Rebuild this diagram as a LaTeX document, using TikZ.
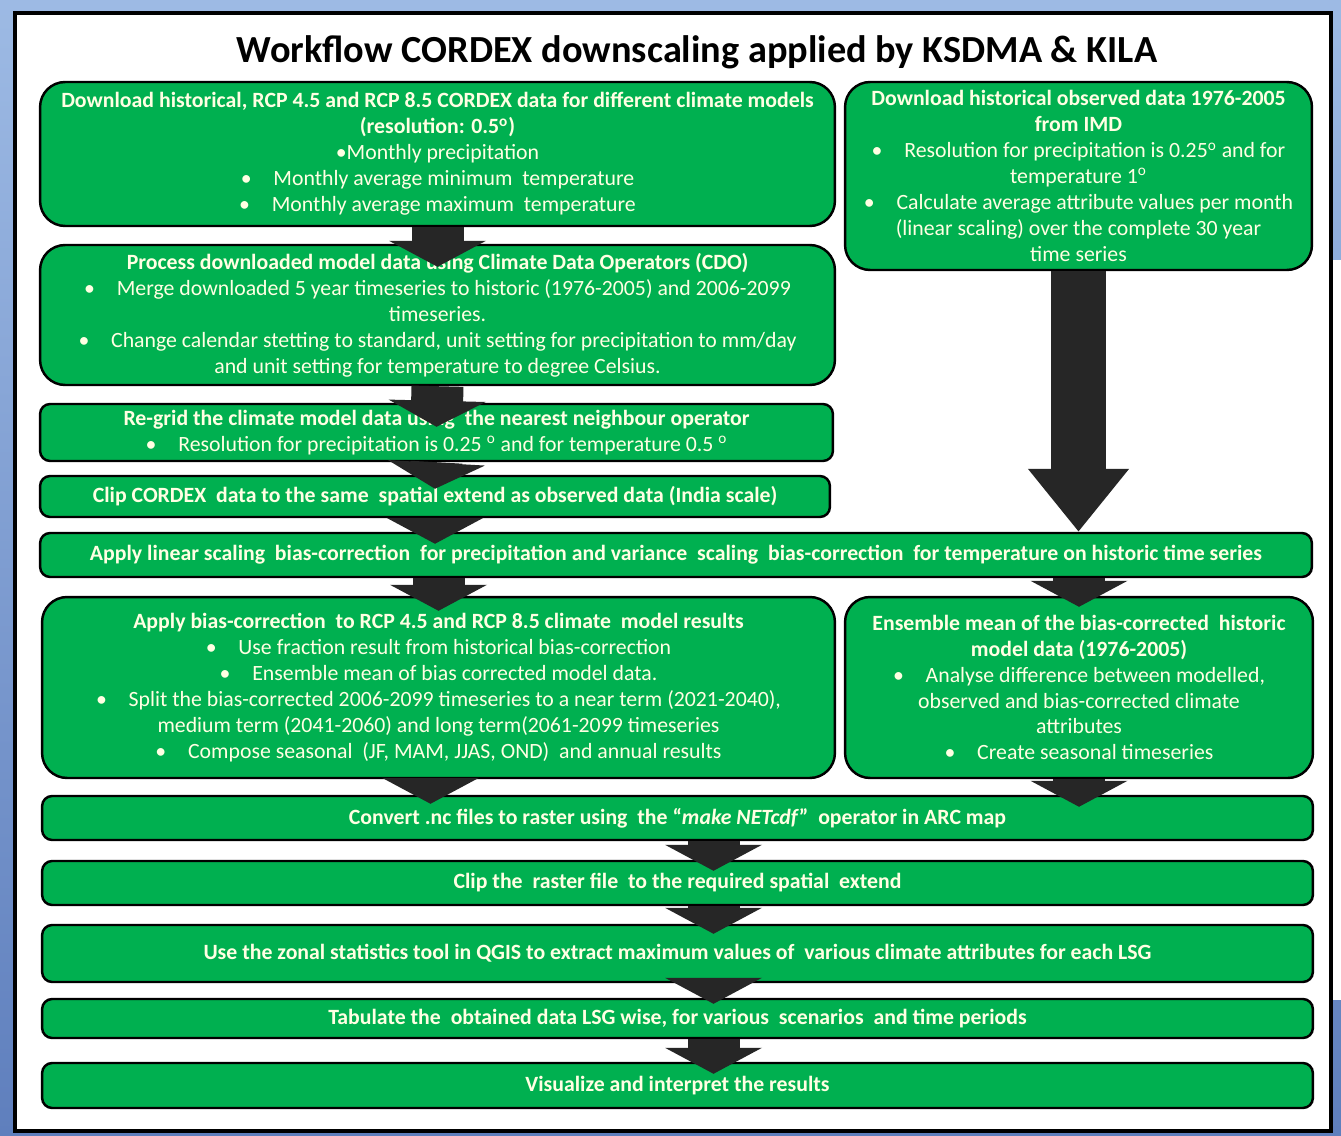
\documentclass[tikz,border=0pt]{standalone}
\usepackage{fontspec}
\setmainfont{Carlito}
\usepackage{xcolor}
\usepackage{tikz}
\usetikzlibrary{arrows.meta}
\usetikzlibrary{calc}
\definecolor{boxgreen}{HTML}{00B050}
\definecolor{boxtext}{HTML}{FFFFE3}
\definecolor{arrowgray}{HTML}{262626}
\definecolor{pageblue}{HTML}{9DBAE4}
\definecolor{deepblue}{HTML}{5F7FBD}
\tikzstyle{roundbox} = [rectangle, draw=black, line width=1.4pt, fill=boxgreen,
    text=boxtext, align=center, inner sep=0pt, rounded corners=0.5cm,
    font=\fontsize{12.4}{14.74}\selectfont]
\tikzstyle{flatbox} = [roundbox, rounded corners=0.2cm]
\tikzstyle{heading} = [font=\fontsize{21.8}{25}\selectfont\bfseries, text=black]
\tikzstyle{flow} = [draw=arrowgray, line width=1.04cm,
    -{Triangle[width=1.92cm,length=0.52cm]}]
\tikzstyle{bigflow} = [draw=arrowgray, line width=1.1cm,
    -{Triangle[width=1.94cm,length=1.26cm]}]

\begin{document}
\begin{tikzpicture}[x=0.02cm, y=-0.02cm]
  \useasboundingbox (0,0) rectangle (1341,1135);
  % Page and frame
  \fill[top color=pageblue, bottom color=deepblue] (0,0) rectangle (1341,1135);
  \fill[white] (1333,260) rectangle (1341,1000);
  \draw[line width=2.3pt, fill=white] (15,13) rectangle (1331,1131);
  % Place nodes
  \node [heading] (title) at (697,52) {Workflow CORDEX downscaling applied by KSDMA \& KILA};
  \node [roundbox, minimum width=15.9cm, minimum height=2.88cm] (dlmodel) at (437.5,154)
    {\textbf{Download historical, RCP 4.5 and RCP 8.5 CORDEX data for different climate models}\\
     \textbf{(resolution: 0.5\textsuperscript{o})}\\
     \textbullet Monthly precipitation\\
     \textbullet\quad Monthly average minimum\ \ temperature\\
     \textbullet\quad Monthly average maximum\ \ temperature};
  \node [roundbox, minimum width=9.34cm, minimum height=3.76cm] (dlobs) at (1078.5,176)
    {\textbf{Download historical observed data 1976-2005}\\
     \textbf{from IMD}\\
     \textbullet\quad Resolution for precipitation is 0.25\textsuperscript{o} and for\\
     temperature 1\textsuperscript{o}\\
     \textbullet\quad Calculate average attribute values per month\\
     (linear scaling) over the complete 30 year\\
     time series};
  \node [roundbox, minimum width=15.9cm, minimum height=2.8cm] (process) at (437.5,315)
    {\textbf{Process downloaded model data using Climate Data Operators (CDO)}\\
     \textbullet\quad Merge downloaded 5 year timeseries to historic (1976-2005) and 2006-2099\\
     timeseries.\\
     \textbullet\quad Change calendar stetting to standard, unit setting for precipitation to mm/day\\
     and unit setting for temperature to degree Celsius.};
  \node [flatbox, minimum width=15.86cm, minimum height=1.14cm] (regrid) at (436.5,432.5)
    {\textbf{Re-grid the climate model data using\ \ the nearest neighbour operator}\\
     \textbullet\quad Resolution for precipitation is 0.25 \textsuperscript{o} and for temperature 0.5 \textsuperscript{o}};
  \node [flatbox, minimum width=15.8cm, minimum height=0.82cm] (clipcordex) at (435,496.5)
    {\textbf{Clip CORDEX\ \ data to the same\ \ spatial extend as observed data (India scale)}};
  \node [flatbox, minimum width=25.44cm, minimum height=0.88cm] (biashist) at (676,555)
    {\textbf{Apply linear scaling\ \ bias-correction\ \ for precipitation and variance\ \ scaling\ \ bias-correction\ \ for temperature on historic time series}};
  \node [roundbox, minimum width=15.86cm, minimum height=3.62cm] (biasrcp) at (438.5,687.5)
    {\textbf{Apply bias-correction\ \ to RCP 4.5 and RCP 8.5 climate\ \ model results}\\
     \textbullet\quad Use fraction result from historical bias-correction\\
     \textbullet\quad Ensemble mean of bias corrected model data.\\
     \textbullet\quad Split the bias-corrected 2006-2099 timeseries to a near term (2021-2040),\\
     medium term (2041-2060) and long term(2061-2099 timeseries\\
     \textbullet\quad Compose seasonal\ \ (JF, MAM, JJAS, OND)\ \ and annual results};
  \node [roundbox, minimum width=9.36cm, minimum height=3.62cm] (ensemble) at (1079,687.5)
    {\textbf{Ensemble mean of the bias-corrected\ \ historic}\\
     \textbf{model data (1976-2005)}\\
     \textbullet\quad Analyse difference between modelled,\\
     observed and bias-corrected climate\\
     attributes\\
     \textbullet\quad Create seasonal timeseries};
  \node [flatbox, minimum width=25.42cm, minimum height=0.88cm] (convert) at (677.5,818)
    {\textbf{Convert .nc files to raster using\ \ the \textquotedblleft\textit{make NETcdf}\textquotedblright\ \ operator in ARC map}};
  \node [flatbox, minimum width=25.42cm, minimum height=0.88cm] (cliprast) at (677.5,883)
    {\textbf{Clip the\ \ raster file\ \ to the required spatial\ \ extend}};
  \node [flatbox, minimum width=25.42cm, minimum height=1.14cm] (zonal) at (677.5,953.5)
    {\textbf{Use the zonal statistics tool in QGIS to extract maximum values of\ \ various climate attributes for each LSG}};
  \node [flatbox, minimum width=25.42cm, minimum height=0.78cm] (tabulate) at (677.5,1018.5)
    {\textbf{Tabulate the\ \ obtained data LSG wise, for various\ \ scenarios\ \ and time periods}};
  \node [flatbox, minimum width=25.42cm, minimum height=0.9cm] (visual) at (677.5,1085.5)
    {\textbf{Visualize and interpret the results}};
  % Draw edges
  \path[flow] (dlmodel.south) -- ($(process.north)+(0,23)$);
  \path[flow] (process.south) -- ($(regrid.north)+(0,24)$);
  \path[flow] (regrid.south) -- ($(clipcordex.north)+(0,14)$);
  \path[flow] (clipcordex.south) -- ($(clipcordex.south |- biashist.north)+(0,12)$);
  \path[bigflow] (dlobs.south) -- (dlobs.south |- biashist.north);
  \path[flow] (biashist.south -| biasrcp.north) -- ($(biasrcp.north)+(0,15)$);
  \path[flow] (biashist.south -| ensemble.north) -- ($(ensemble.north)+(0,11)$);
  \path[flow] ($(biasrcp.south)+(-8,0)$) -- ($(biasrcp.south |- convert.north)+(-8,9)$);
  \path[flow] (ensemble.south) -- ($(ensemble.south |- convert.north)+(0,12)$);
  \path[flow] ($(convert.south)+(36,0)$) -- ($(cliprast.north)+(36,11)$);
  \path[flow] ($(cliprast.south)+(36,0)$) -- ($(zonal.north)+(36,10)$);
  \path[flow] ($(zonal.south)+(36,0)$) -- ($(tabulate.north)+(36,6)$);
  \path[flow] ($(tabulate.south)+(36,0)$) -- ($(visual.north)+(36,12)$);
\end{tikzpicture}
\end{document}
